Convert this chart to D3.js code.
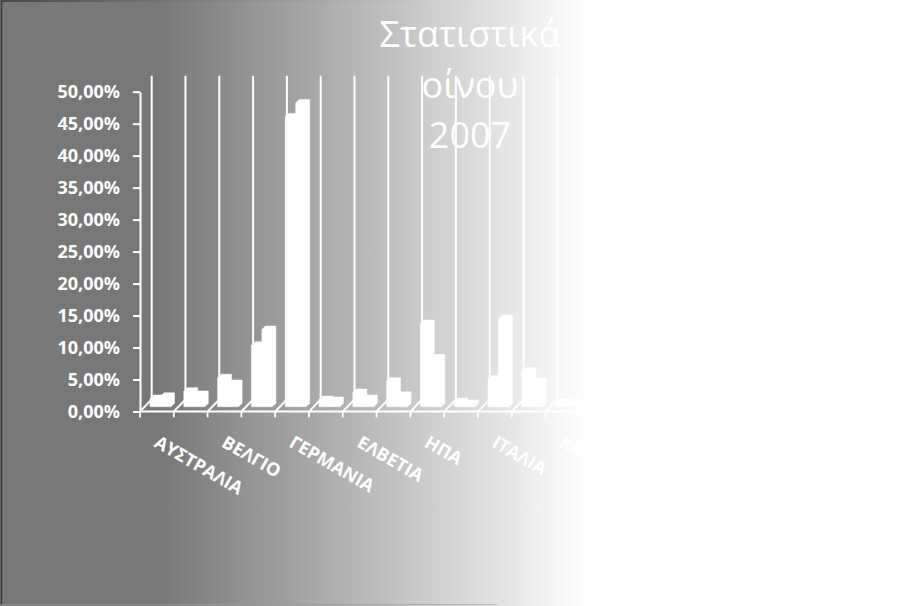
<!DOCTYPE html>
<html>
<head>
<meta charset="utf-8">
<script src="https://cdn.jsdelivr.net/npm/d3@7"></script>
<style>
  html, body { margin: 0; padding: 0; background: #ffffff; }
  svg { display: block; }
  text { font-family: 'Open Sans', 'Noto Sans', sans-serif; }
</style>
</head>
<body>
<div id="chart"></div>
<script>
// Wine export shares 2007
const categories = ['ΑΥΣΤΡΑΛΙΑ', 'ΑΥΣΤΡΙΑ', 'ΒΕΛΓΙΟ', 'ΓΑΛΛΙΑ', 'ΓΕΡΜΑΝΙΑ', 'ΔΑΝΙΑ', 'ΕΛΒΕΤΙΑ',
  'ΗΝΩΜΕΝΟ ΒΑΣΙΛΕΙΟ', 'ΗΠΑ', 'ΙΑΠΩΝΙΑ', 'ΙΤΑΛΙΑ', 'ΚΑΝΑΔΑΣ', 'ΚΙΝΑ'];
const seriesA = [0.0128, 0.0242, 0.0452, 0.0961, 0.453, 0.0112, 0.0222, 0.0398, 0.130, 0.0081, 0.043, 0.0555, 0.007];
const seriesB = [0.0164, 0.0191, 0.0363, 0.1206, 0.475, 0.0097, 0.0128, 0.018, 0.0764, 0.005, 0.1378, 0.0389, 0.006];
const yTicks = [0, 0.05, 0.1, 0.15, 0.2, 0.25, 0.3, 0.35, 0.4, 0.45, 0.5];
const titleLines = ['Στατιστικά', 'οίνου', '2007'];

const width = 903;
const height = 606;

const svg = d3.select('#chart')
  .append('svg')
  .attr('width', width)
  .attr('height', height);

const defs = svg.append('defs');

// grey -> white background fade
const bg = defs.append('linearGradient').attr('id', 'bg-grad')
  .attr('gradientUnits', 'userSpaceOnUse')
  .attr('x1', 0).attr('y1', 0).attr('x2', width).attr('y2', 0);
bg.append('stop').attr('offset', 0.18).attr('stop-color', '#787878');
bg.append('stop').attr('offset', 0.65).attr('stop-color', '#ffffff');

const border = defs.append('linearGradient').attr('id', 'border-grad')
  .attr('gradientUnits', 'userSpaceOnUse')
  .attr('x1', 0).attr('y1', 0).attr('x2', width).attr('y2', 0);
border.append('stop').attr('offset', 0).attr('stop-color', '#3a3a3a');
border.append('stop').attr('offset', 0.65).attr('stop-color', '#ffffff');

svg.append('rect')
  .attr('x', 0).attr('y', 0)
  .attr('width', width).attr('height', height)
  .attr('fill', 'url(#bg-grad)');

// thin frame: top and left edges only
svg.append('path')
  .attr('d', `M1.5,${height - 2}V1H${width - 2}`)
  .attr('fill', 'none')
  .attr('stroke', 'url(#border-grad)')
  .attr('stroke-width', 1.5);

svg.append('line')
  .attr('x1', 2).attr('x2', width * 0.55)
  .attr('y1', height - 1.5).attr('y2', height - 1.5)
  .attr('stroke', '#9a9a9a')
  .attr('stroke-opacity', 0.6)
  .attr('stroke-width', 1);

// 3D offsets (floor depth and bar depth)
const depthX = 11.7;
const depthY = -12;
const barShiftY = -4.8;
const barDX = 3.5;
const barDY = -3.5;

const xscale = d3.scaleBand()
  .domain(categories)
  .range([140, 579.4])
  .paddingInner(0)
  .paddingOuter(0);

const seriesScale = d3.scaleBand()
  .domain(['A', 'B'])
  .range([10, 31]);

const yscale = d3.scaleLinear()
  .domain([0, 0.5])
  .range([411.5, 91.7]);

const locale = d3.formatLocale({ decimal: ',', thousands: '.', grouping: [3], currency: ['', '€'] });
const pct = locale.format('.2%');

const LINE = '#ffffff';
const LINE_W = 2;

// back wall verticals and floor diagonals at category boundaries
const boundaries = categories.map((c) => xscale(c)).concat([xscale.range()[1]]);
const [y0, y50] = [yscale(0), yscale(0.5)];

svg.append('g').attr('id', 'walls')
  .selectAll('line.back')
  .data(boundaries)
  .enter()
  .append('line')
  .attr('class', 'back')
  .attr('x1', (d) => d + depthX).attr('x2', (d) => d + depthX)
  .attr('y1', y0 + depthY).attr('y2', y50 - 16)
  .attr('stroke', LINE).attr('stroke-width', LINE_W);

svg.append('g').attr('id', 'floor')
  .selectAll('line')
  .data(boundaries)
  .enter()
  .append('line')
  .attr('x1', (d) => d).attr('y1', y0)
  .attr('x2', (d) => d + depthX).attr('y2', y0 + depthY)
  .attr('stroke', LINE).attr('stroke-width', 1.8);

// bars as white 3D silhouettes
const barData = [];
categories.forEach((c, i) => {
  barData.push({ cat: c, key: 'A', value: seriesA[i] });
  barData.push({ cat: c, key: 'B', value: seriesB[i] });
});

function barShape(d) {
  const left = xscale(d.cat) + seriesScale(d.key);
  const right = left + seriesScale.bandwidth();
  const bottom = yscale(0) + barShiftY;
  const top = yscale(d.value) + barShiftY;
  return [
    [left, bottom], [left, top], [left + barDX, top + barDY],
    [right + barDX, top + barDY], [right + barDX, bottom + barDY], [right, bottom],
  ].map((p) => p.join(',')).join(' ');
}

svg.append('g').attr('id', 'bars')
  .selectAll('polygon')
  .data(barData)
  .enter()
  .append('polygon')
  .attr('points', barShape)
  .attr('fill', '#ffffff')
  .attr('stroke', '#ffffff')
  .attr('stroke-width', 0.5);

// front floor edge with category ticks
svg.append('line')
  .attr('x1', xscale.range()[0]).attr('x2', xscale.range()[1])
  .attr('y1', y0).attr('y2', y0)
  .attr('stroke', LINE).attr('stroke-width', LINE_W);

svg.append('g')
  .selectAll('line')
  .data(boundaries)
  .enter()
  .append('line')
  .attr('x1', (d) => d).attr('x2', (d) => d)
  .attr('y1', y0).attr('y2', y0 + 6)
  .attr('stroke', LINE).attr('stroke-width', 1.8);

// y axis
const yAxis = d3.axisLeft(yscale)
  .tickValues(yTicks)
  .tickFormat(pct)
  .tickSize(7)
  .tickSizeOuter(0)
  .tickPadding(13);

const yAxisG = svg.append('g')
  .attr('id', 'y-axis')
  .attr('transform', 'translate(140, 0)')
  .call(yAxis);

yAxisG.selectAll('path, line').attr('stroke', LINE).attr('stroke-width', LINE_W);
yAxisG.selectAll('text')
  .attr('fill', '#ffffff')
  .style('font-size', '18px')
  .style('font-weight', 700);

// category labels (every second one shown, rotated)
svg.append('g').attr('id', 'x-labels')
  .selectAll('text')
  .data(categories.filter((c, i) => i % 2 === 0))
  .enter()
  .append('text')
  .attr('transform', (d) => `translate(${xscale(d) + xscale.bandwidth() / 2 - 4}, 446) rotate(30)`)
  .attr('fill', '#ffffff')
  .style('font-size', '18px')
  .style('font-weight', 700)
  .text((d) => d);

// title
svg.append('g').attr('id', 'title')
  .selectAll('text')
  .data(titleLines)
  .enter()
  .append('text')
  .attr('x', 470)
  .attr('y', (d, i) => 47 + i * 50.5)
  .attr('text-anchor', 'middle')
  .attr('fill', '#ffffff')
  .style('font-size', '36px')
  .text((d) => d);
</script>
</body>
</html>
